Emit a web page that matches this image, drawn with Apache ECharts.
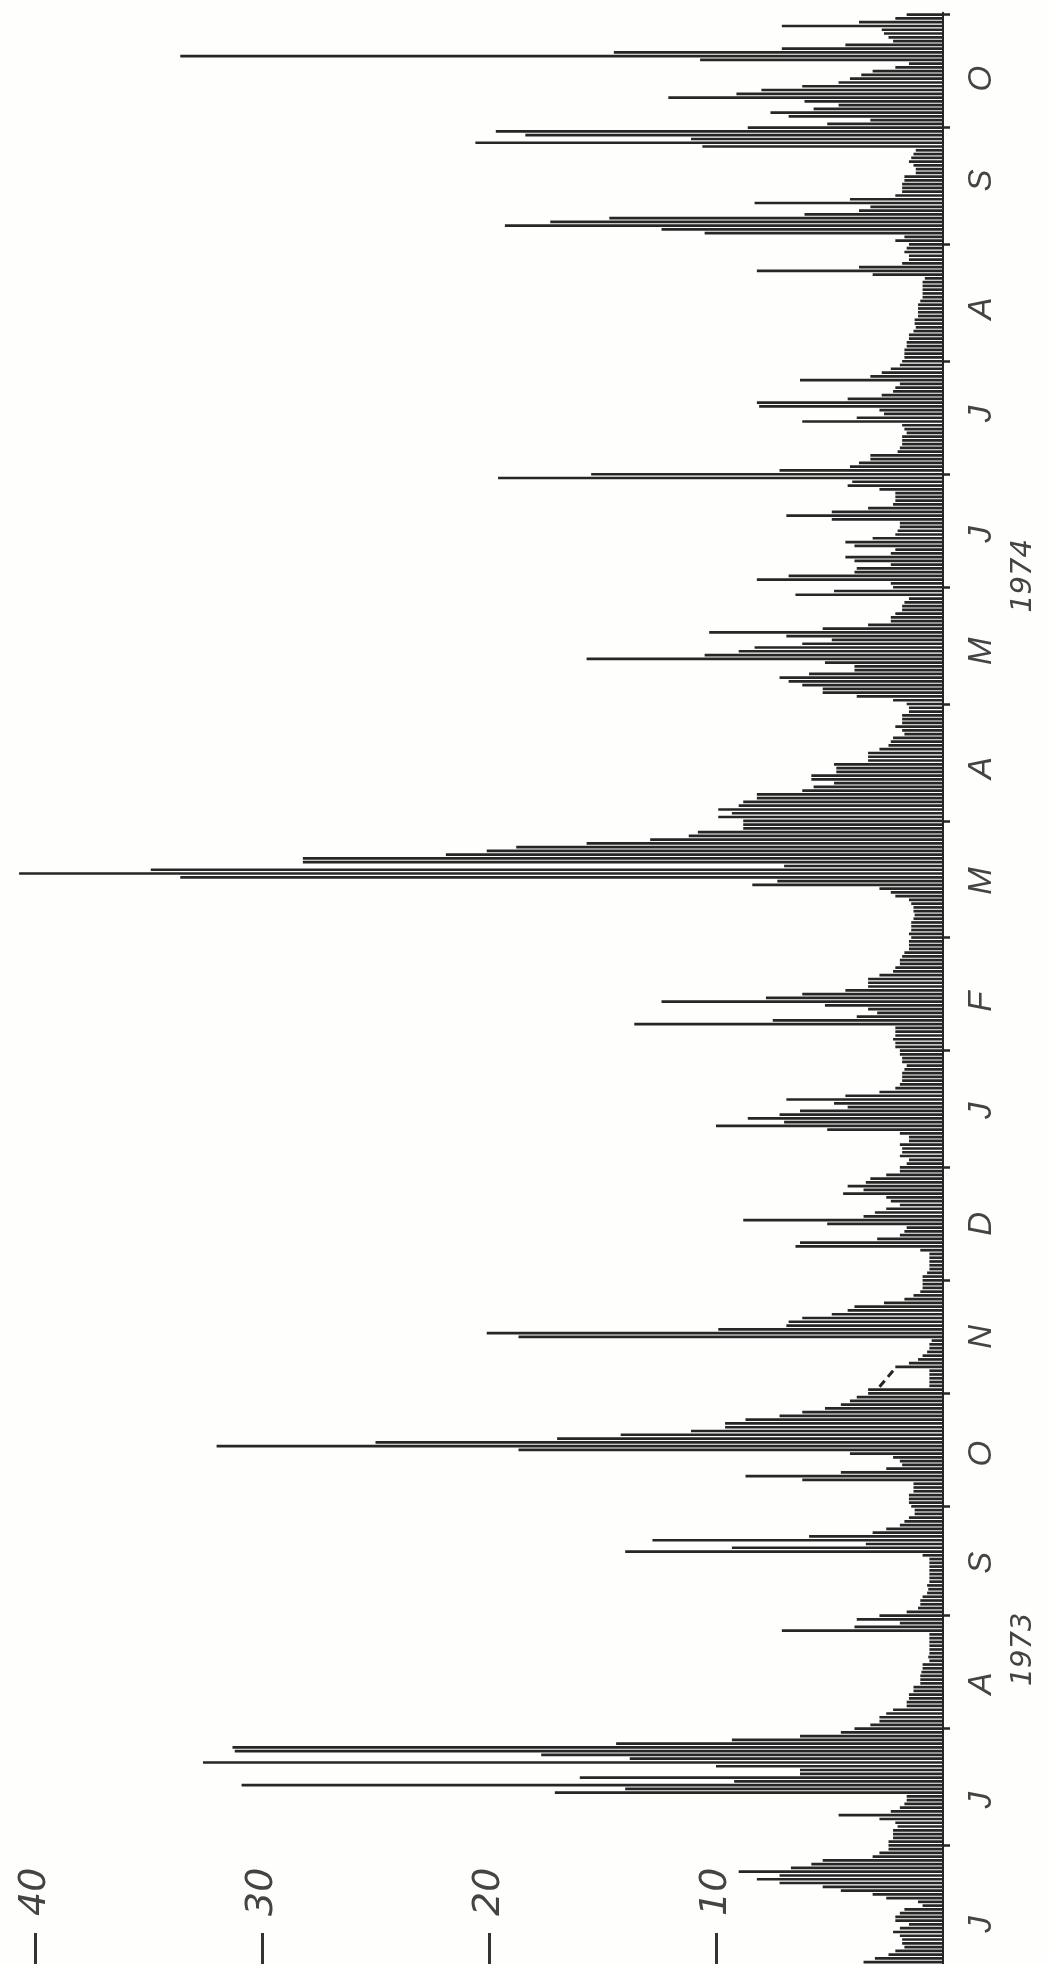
<!DOCTYPE html>
<html><head><meta charset="utf-8">
<style>html,body{margin:0;padding:0;background:#fefefd}#c{width:1049px;height:1964px}</style>
<script src="https://cdn.jsdelivr.net/npm/echarts@6/dist/echarts.min.js"></script>
</head><body><div id="c"></div>
<script>
// Daily values, newest (top) to oldest (bottom)
const octSep74 = [1.6,2.1,3.7,7.1,2.7,2.6,2.4,2.2,4.3,7.1,14.5,33.6,10.7,1.5,2.1,3.1,3.6,4.1,4.6,6.2,8,9.1,12.1,6.1,4.6,5.7,7.6,6.8,3.2,5.1,
 8.6,19.7,18.4,11.1,20.6,10.6,1.2,1.3,1.4,1.5,1.3,1.2,1.2,1.7,1.7,1.8,1.8,1.8,2.1,4.1,8.3,3.2,3.7,6.1,14.7,17.3,19.3,12.4,10.5];
const augJul74 = [1.7,2.1,1.5,1.6,1.7,1.5,1.5,1.8,3.7,8.2,3.1,0.8,0.9,0.9,
 0.9,0.9,0.9,1,1.1,1.1,1.1,1.1,1.25,1.25,1.2,1.3,1.5,1.5,1.6,1.6,1.7,1.7,1.7,1.8,1.9,2.3,2.7,3.2,6.3,1.9,2.1,2.2,2.7,4.2,8.2,8.1,2.8,2.6,3.8,6.2,1.8,1.7,1.6,1.8,1.8,1.8,1.9,2,3.2];
const junMay74 = [3.2,3.7,4.1,7.2,15.5,19.6,4,4.2,2.8,2.1,2.1,2.1,2.2,3.3,4.9,6.9,4.9,1.9,1.9,2,2.1,3.1,4.3,3.9,2.1,2.3,4.3,3.9,2.3,3.8,3.9,6.8,8.2,2.3,2.2,4.8,6.5,1.5,1.7,1.8,1.8,2.1,2.3,2.3,3.3,
 5.3,10.3,6.9,4.9,6.2,8.3,9,10.5,15.7,5.2,3.9,3.9,5.9,7.2,6.8,6.2,5.3,5.3,3.8,2.2];
const aprMar74 = [1.6,1.5,1.5,1.8,1.8,1.8,2.1,1.8,1.7,2.2,2.3,2.4,2.8,3.3,3.3,3.3,4.8,4.7,4.7,5.8,5.8,4.8,5.7,6.2,8.2,
 8.2,8.8,9,9.9,9.3,9.9,8.8,8.8,8.8,10.8,11.2,12.9,15.7,18.8,20.1,21.9,28.2,28.2,7,34.9,40.7,33.6,7.3,8.4,2.8,2.3,2.1,1.5,1.4,1.3,1.3,1.25,1.3,1.4,1.4,1.4,1.5];
const febJan74 = [1.4,1.5,1.5,1.5,1.7,1.8,1.9,1.9,2.1,2.2,2.8,3.3,3.3,3.3,4.3,6.2,7.8,12.4,5.2,3.3,2.9,3.8,7.5,13.6,2.1,2.1,2.1,2.2,2.1,2.1,1.9,1.9,1.8,1.8,1.6,1.7,1.8,1.8,1.8,1.9,2.1,2.8,4.3,6.9,4.8,4.2,6.3,7.2,8.6,7,10,5.1,1.9,1.5];
const decNov73 = [1.5,1.9,1.8,1.8,1.9,1.5,1.6,1.9,1.9,2.5,3.2,3.4,4.2,3.5,4.4,2.5,2.3,1.9,2.5,3,3.5,8.8,5.1,1.6,1.7,1.9,2.9,6.3,6.5,1,0.6,0.6,0.6,0.6,0.6,0.7,0.9,0.9,0.9,0.9,1,1.3,1.7,2.6,3.9,
 4.2,4.9,6.2,6.8,6.9,9.9,20.1,18.7,0.5,0.6,0.6,0.7,0.9,1.1,1.5,2.1,0.6,0.6,0.6,0.6,0.6];
const octSep73 = [3.3,3.3,3.8,4.1,4.5,5.2,6.2,7.2,8.7,9.6,9.6,11.1,14.2,17,25,32,18.7,4.1,2.2,1.9,1.8,2.5,4.5,8.7,6.2,
 1.3,1.3,1.3,1.5,1.5,1.5,1.4,1.25,1.25,1.5,1.7,1.9,2.5,3.1,5.9,12.8,3.4,9.3,14,0.9,0.6,0.6,0.6,0.6,0.6,0.6,0.6,0.7,0.65,0.7,0.9,1,1,1.1,1.6,2.8,3.8,1.9,3.9,7.1];
const augJul73 = [0.6,0.6,0.6,0.6,0.6,0.6,0.65,0.6,0.9,0.9,0.95,1,1,1,1.3,1.3,1.5,1.5,1.6,1.6,2.2,2.5,2.8,2.8,3.2,3.9,4.5,6.3,9.3,14.4,31.3,31.2,17.7,13.8,32.6,10,6.3,6.3,16,9.2,30.9,14,17.1,1.6,1.6,1.7,1.9,2.3];
const junMay73 = [4.6,2.8,2.1,2,2.2,2.2,2.2,2.4,2.4,2.4,2.8,3.1,5.3,5.8,6.7,9,7.2,8.2,7.2,5.3,4.5,3.1,2.5,1.1,0.9,1.7,1.9,2.1,2.1,1.5,1.9,2.2,1.9,1.8,1.8,1.7,2.1,2.4,3,3.5];
const dailyValues = [].concat(octSep74,augJul74,junMay74,aprMar74,febJan74,decNov73,octSep73,augJul73,junMay73);
const totalDays = 518;
while (dailyValues.length < totalDays) dailyValues.push(null);
const dayCategories = dailyValues.map((v,i)=>'d'+i);
const monthTickDays = [0,30,61,92,122,152,183,214,245,275,306,336,366,396,425,455,486];
const monthLabelDays = [17,44,78,106,138,169,200,230,262,291,321,351,382,411,443,474,507];
const monthLabels = ['O','S','A','J','J','M','A','M','F','J','D','N','O','S','A','J','J'];
const yearLabelDays = [149,434];
const yearLabels = ['1974','1973'];
const valueTicks = [10,20,30,40];
const gapValues = [2.2,2.9];
const gapDays = [360,365];

const ink = '#262626';
const chart = echarts.init(document.getElementById('c'));
chart.setOption({
  animation:false,
  backgroundColor:'#fefefd',
  grid:{left:12.3,right:106,top:12.8,bottom:0,containLabel:false},
  xAxis:{type:'value',inverse:true,min:0,max:41,position:'bottom',
    axisLine:{show:false},splitLine:{show:false},
    axisTick:{show:true,inside:true,length:31,customValues:valueTicks,lineStyle:{color:'#333',width:3}},
    axisLabel:{show:true,inside:true,margin:48,rotate:90,customValues:valueTicks,
      fontFamily:'DejaVu Sans',fontStyle:'italic',fontSize:38,color:'#444'}},
  yAxis:[{type:'category',inverse:true,position:'right',data:dayCategories,boundaryGap:true,
    axisLine:{show:true,onZero:false,lineStyle:{color:ink,width:2}},
    axisTick:{show:true,alignWithLabel:true,length:7,interval:(i)=>monthTickDays.includes(i),lineStyle:{color:ink,width:2.5}},
    axisLabel:{show:true,margin:22,rotate:90,interval:(i)=>monthLabelDays.includes(i),
      formatter:(v,i)=>monthLabels[monthLabelDays.indexOf(i)],
      fontFamily:'Liberation Sans',fontStyle:'italic',fontSize:33,color:'#444'}},
   {type:'category',inverse:true,position:'right',offset:66,data:dayCategories,
    axisLine:{show:false},axisTick:{show:false},
    axisLabel:{show:true,margin:0,rotate:90,interval:(i)=>yearLabelDays.includes(i),
      formatter:(v,i)=>yearLabels[yearLabelDays.indexOf(i)],
      fontFamily:'DejaVu Sans',fontStyle:'italic',fontSize:29,color:'#444'}}],
  series:[
   {type:'bar',yAxisIndex:0,data:dailyValues,barWidth:2.7,itemStyle:{color:ink},silent:true},
   {type:'line',yAxisIndex:0,data:gapValues.map((v,i)=>[v,gapDays[i]]),symbol:'none',silent:true,
    lineStyle:{color:ink,width:3,type:[8,5]}}
  ]
});
</script></body></html>
